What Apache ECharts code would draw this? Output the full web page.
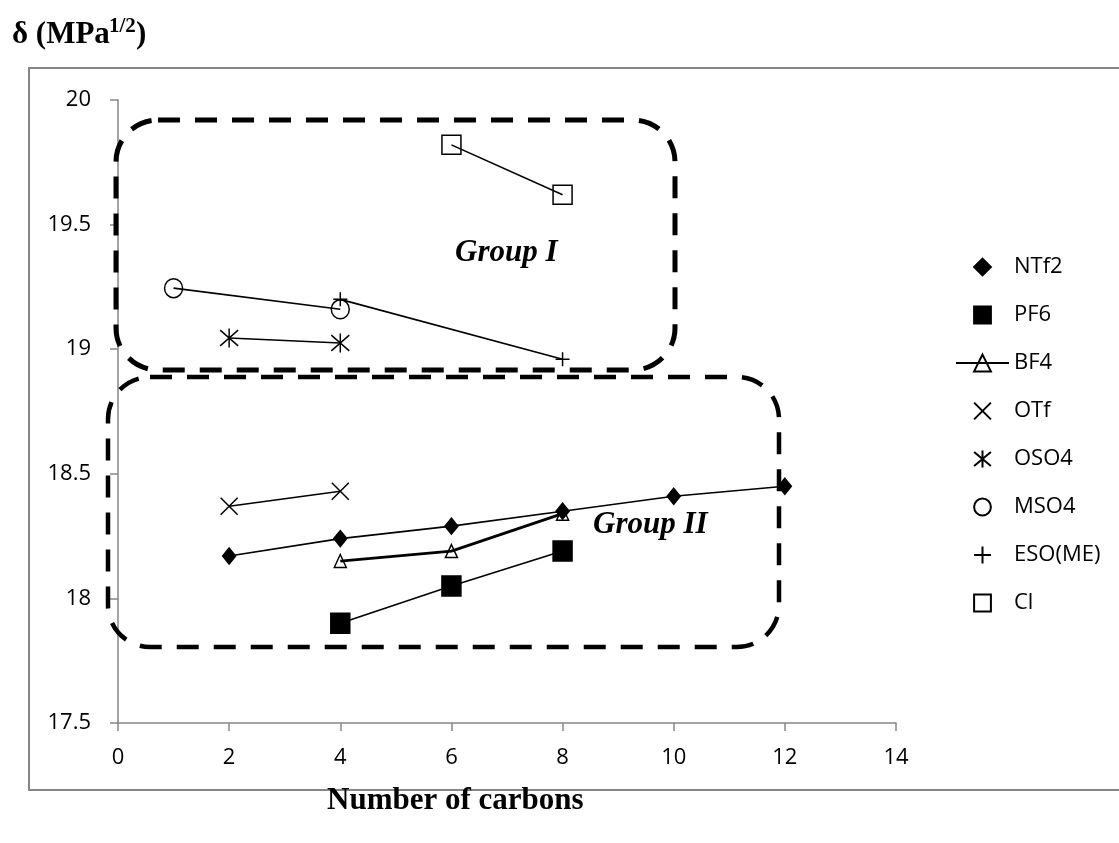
<!DOCTYPE html>
<html>
<head>
<meta charset="utf-8">
<script src="https://cdn.jsdelivr.net/npm/echarts@6/dist/echarts.min.js"></script>
<style>html,body{margin:0;padding:0;background:#fff;}#c{width:1119px;height:843px;}</style>
</head>
<body>
<div id="c"></div>
<script>
// ---- data ----
const seriesNames = ['NTf2', 'PF6', 'BF4', 'OTf', 'OSO4', 'MSO4', 'ESO(ME)', 'Cl'];
const NTf2 = [[2, 18.17], [4, 18.24], [6, 18.29], [8, 18.35], [10, 18.41], [12, 18.45]];
const PF6 = [[4, 17.90], [6, 18.05], [8, 18.19]];
const BF4 = [[4, 18.15], [6, 18.19], [8, 18.34]];
const OTf = [[2, 18.37], [4, 18.43]];
const OSO4 = [[2, 19.045], [4, 19.025]];
const MSO4 = [[1, 19.245], [4, 19.16]];
const ESOME = [[4, 19.20], [8, 18.96]];
const Cl = [[6, 19.82], [8, 19.62]];
const xTicks = { min: 0, max: 14, interval: 2 };
const yTicks = { min: 17.5, max: 20, interval: 0.5 };
const groupLabels = ['Group I', 'Group II'];

const SANS = 'Open Sans';

const CROSS = 'path://M0,0L10,10M10,0L0,10';
const STAR = 'path://M1,1L11,11M11,1L1,11M6,0L6,12';
const PLUS = 'path://M5,0L5,10M0,5L10,5';

function mk(name, data, symbol, size, fill, lw) {
  return {
    name: name, type: 'line', data: data,
    symbol: symbol, symbolSize: size,
    lineStyle: { color: '#000', width: lw || 1.6 },
    itemStyle: { color: fill, borderColor: '#000', borderWidth: 1.5 },
    emphasis: { disabled: true },
    z: 3
  };
}

const chart = echarts.init(document.getElementById('c'));
const noLine = { opacity: 0 };
chart.setOption({
  animation: false,
  backgroundColor: '#fff',
  grid: { left: 118, right: 223, top: 100, bottom: 120 },
  xAxis: {
    type: 'value', min: xTicks.min, max: xTicks.max, interval: xTicks.interval,
    splitLine: { show: false },
    axisLine: { lineStyle: { color: '#868686', width: 1.5 } },
    axisTick: { show: true, length: 8, lineStyle: { color: '#868686', width: 1.5 } },
    axisLabel: { margin: 24, color: '#000', fontFamily: SANS, fontSize: 22 }
  },
  yAxis: {
    type: 'value', min: yTicks.min, max: yTicks.max, interval: yTicks.interval,
    splitLine: { show: false },
    axisLine: { show: true, lineStyle: { color: '#868686', width: 1.5 } },
    axisTick: { show: true, length: 8, lineStyle: { color: '#868686', width: 1.5 } },
    axisLabel: { margin: 27, color: '#000', fontFamily: SANS, fontSize: 22 }
  },
  legend: {
    orient: 'vertical', left: 950, top: 251,
    itemWidth: 53, itemHeight: 21, itemGap: 26,
    textStyle: { color: '#000', fontFamily: SANS, fontSize: 22, lineHeight: 22 },
    data: [
      { name: 'NTf2', lineStyle: noLine },
      { name: 'PF6', lineStyle: noLine },
      { name: 'BF4' },
      { name: 'OTf', lineStyle: noLine },
      { name: 'OSO4', lineStyle: noLine },
      { name: 'MSO4', lineStyle: noLine },
      { name: 'ESO(ME)', lineStyle: noLine },
      { name: 'Cl', lineStyle: noLine }
    ]
  },
  series: [
    mk(seriesNames[0], NTf2, 'diamond', [13, 16], '#000'),
    mk(seriesNames[1], PF6, 'rect', [19, 20], '#000'),
    mk(seriesNames[2], BF4, 'triangle', [12, 13], 'transparent', 2.8),
    mk(seriesNames[3], OTf, CROSS, [17, 17], 'transparent'),
    mk(seriesNames[4], OSO4, STAR, [18, 19], 'transparent'),
    mk(seriesNames[5], MSO4, 'circle', [18, 19], 'transparent'),
    mk(seriesNames[6], ESOME, PLUS, [14, 14], 'transparent'),
    mk(seriesNames[7], Cl, 'rect', [19, 19], 'transparent')
  ],
  graphic: [
    { type: 'rect', z: 1, silent: true, shape: { x: 29, y: 68, width: 1100, height: 722 },
      style: { fill: 'none', stroke: '#868686', lineWidth: 2 } },
    { type: 'rect', z: 2, silent: true, shape: { x: 116, y: 120, width: 559, height: 250, r: 42 },
      style: { fill: 'none', stroke: '#000', lineWidth: 5, lineDash: [22, 15] } },
    { type: 'rect', z: 2, silent: true, shape: { x: 108, y: 377, width: 671, height: 270, r: 42 },
      style: { fill: 'none', stroke: '#000', lineWidth: 4.5, lineDash: [22, 15] } },
    { type: 'text', z: 5, silent: true, left: 455, top: 237,
      style: { text: groupLabels[0], fill: '#000', font: 'italic bold 31px "Liberation Serif"' } },
    { type: 'text', z: 5, silent: true, left: 593, top: 509,
      style: { text: groupLabels[1], fill: '#000', font: 'italic bold 31px "Liberation Serif"' } },
    { type: 'text', z: 5, silent: true, left: 12, top: 19,
      style: { text: 'δ (MPa', fill: '#000', font: 'bold 31px "Liberation Serif"' } },
    { type: 'text', z: 5, silent: true, left: 109, top: 16,
      style: { text: '1/2', fill: '#000', font: 'bold 21px "Liberation Serif"' } },
    { type: 'text', z: 5, silent: true, left: 136, top: 19,
      style: { text: ')', fill: '#000', font: 'bold 31px "Liberation Serif"' } },
    { type: 'text', z: 5, silent: true, left: 327, top: 785,
      style: { text: 'Number of carbons', fill: '#000', font: 'bold 31px "Liberation Serif"' } }
  ]
});
</script>
</body>
</html>
